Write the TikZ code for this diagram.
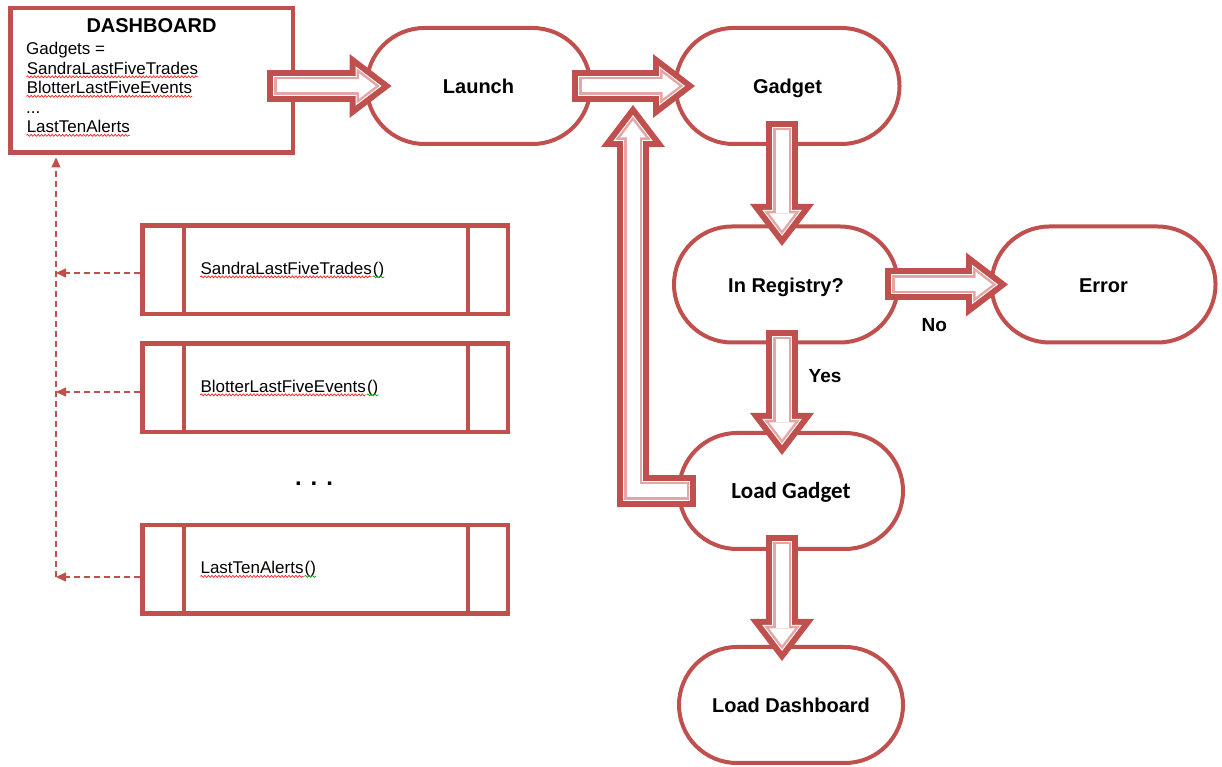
\documentclass[tikz,border=0pt]{standalone}
\usepackage{fontspec}
\setmainfont{Liberation Sans}
\newfontfamily\calibfont{Carlito}
\usetikzlibrary{shapes.misc,arrows.meta,calc,decorations.pathmorphing}

\definecolor{accent}{HTML}{C0504D}
\definecolor{accentpale}{HTML}{E4A6A4}
\definecolor{spellred}{HTML}{FF2020}
\definecolor{spellgreen}{HTML}{10A010}

% spell-check squiggle under a word
\newcommand\wavy[2]{\tikz[baseline=(w.base)]{\node[rectangle, draw=none, inner sep=0pt, minimum width=0pt, minimum height=0pt] (w) {#2};
    \draw[#1, line width=0.7pt, decorate, decoration={snake, amplitude=1pt, segment length=3.5pt}]
        ([yshift=-2.8pt]w.base west) -- ([yshift=-2.8pt]w.base east);}}
% left aligned call name inside a subroutine box
\newcommand\callname[1]{\makebox[250pt][l]{#1}}

\tikzset{
  term/.style={rounded rectangle, draw=accent, line width=4pt, fill=white,
    minimum width=224pt, minimum height=116pt, inner sep=0pt,
    text height=17pt, text depth=1pt,
    font=\fontsize{20}{24}\selectfont\bfseries},
  subbox/.style={rectangle, draw=accent, line width=4.5pt,
    minimum width=365.5pt, minimum height=88.5pt,
    inner sep=0pt, font=\fontsize{17}{20}\selectfont},
  dashbox/.style={rectangle, draw=accent, line width=4.5pt,
    minimum width=282.5pt, minimum height=144.5pt},
  subline/.style={draw=accent, line width=4.5pt},
  dashlink/.style={draw=accent, line width=1.5pt, dash pattern=on 6pt off 4pt,
    -{Triangle[length=10pt,width=9pt]}},
  lbl/.style={font=\fontsize{19}{23}\selectfont\bfseries},
  barrow/.style={draw=accent, line width=32pt,
    -{Triangle[length=42pt,width=64pt,line width=0pt]},
    postaction={draw=white, line width=20pt, shorten <=6pt, shorten >=10pt,
      -{Triangle[length=26pt,width=39.5pt,line width=0pt]}},
    postaction={draw=accentpale, line width=18pt, shorten <=7pt, shorten >=11.7pt,
      -{Triangle[length=23.3pt,width=35.5pt,line width=0pt]}},
    postaction={draw=white, line width=13pt, shorten <=9.5pt, shorten >=15.8pt,
      -{Triangle[length=16.7pt,width=25.5pt,line width=0pt]}}},
}

\begin{document}
\begin{tikzpicture}[x=1pt,y=1pt]
\useasboundingbox (0,0) rectangle (1222,767);

    \node[dashbox] (dash) at (151.5,686.5) {};
    \node[font=\fontsize{20}{24}\selectfont\bfseries] (dashtitle) at ($(dash.north)+(0,-20)$) {DASHBOARD};
    \node[anchor=north west, align=left, inner sep=0pt, font=\fontsize{17}{19.5}\selectfont] (gadgets)
        at ($(dash.north west)+(18,-36)$)
        {Gadgets =\\\wavy{spellred}{SandraLastFiveTrades}\\\wavy{spellred}{BlotterLastFiveEvents}\\...\\\wavy{spellred}{LastTenAlerts}};

    \node[term] (launch) at (478.5,681) {Launch};
    \node[term] (gadget) at (787.5,681) {Gadget};
    \node[term] (reg) at (786,482.5) {In Registry?};
    \node[term] (err) at (1103.5,482.5) {Error};
    \node[term, font=\fontsize{23}{27}\selectfont\calibfont\bfseries] (loadg) at (791,276) {Load Gadget};
    \node[term] (loadd) at (791,62) {Load Dashboard};

    \node[subbox] (s1) at (325,497) {\callname{\wavy{spellred}{SandraLastFiveTrades}\wavy{spellgreen}{()}}};
    \node[subbox] (s2) at (325,379) {\callname{\wavy{spellred}{BlotterLastFiveEvents}\wavy{spellgreen}{()}}};
    \node[subbox] (s3) at (325,197.5) {\callname{\wavy{spellred}{LastTenAlerts}\wavy{spellgreen}{()}}};
    \node[font=\fontsize{24}{28}\selectfont\bfseries] (dots) at (314,283) {.\hspace{9pt}.\hspace{9pt}.};

    \foreach \s in {s1,s2,s3} {
        \draw[subline] ([xshift=44pt]\s.north west) -- ([xshift=44pt]\s.south west);
        \draw[subline] ([xshift=-42pt]\s.north east) -- ([xshift=-42pt]\s.south east);
    }

    % calls back to the dashboard
    \coordinate (bustop) at ($(dash.south west)+(48,-2.5)$);
    \foreach \s/\dy in {s1/-3,s2/-4,s3/-7.5} {
        \coordinate (o\s) at ([yshift=\dy pt]\s.west);
        \draw[dashlink] (o\s) -- (o\s -| bustop);
    }
    \draw[dashlink] (os3 -| bustop) -- (bustop);

    % flow
    \draw[barrow] ($(dash.east |- launch.west)+(-28,0)$) -- ($(launch.west)+(27,0)$);
    \draw[barrow] ($(launch.east)+(-20.5,0)$) -- ($(gadget.west)+(21.5,0)$);
    \draw[barrow] ($(gadget.south)+(-5.5,25)$) -- ($(gadget.south |- reg.north)+(-5.5,-21.5)$);
    \draw[barrow] ($(reg.east)+(-15,0)$) -- node[lbl, pos=.4, yshift=-41pt] (no) {No} ($(err.west)+(18.5,0)$);
    \draw[barrow] ($(reg.south)+(-4,14.5)$) -- node[lbl, pos=.37, xshift=43pt] (yes) {Yes} ($(reg.south |- loadg.north)+(-4,-24)$);
    \draw[barrow] ($(loadg.south)+(-9,16)$) -- ($(loadg.south |- loadd.north)+(-9,-16)$);
    \coordinate (loopend) at ($(launch.east)!.5!(gadget.west)+(0,-19)$);
    \draw[barrow] ($(loadg.west)+(19,0)$) -| (loopend);

\end{tikzpicture}
\end{document}
